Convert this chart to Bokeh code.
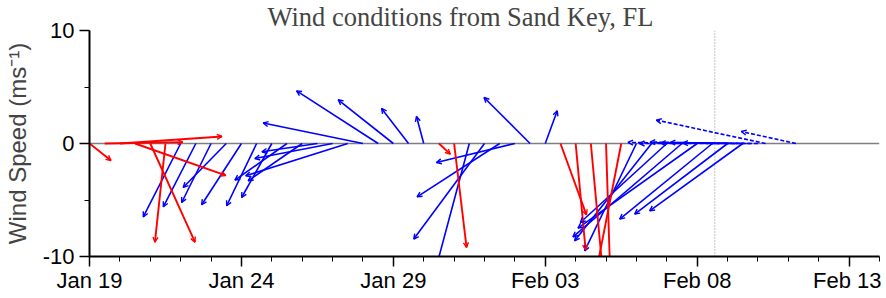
import numpy as np
from bokeh.plotting import figure
from bokeh.models import (ColumnDataSource, Arrow, OpenHead, FixedTicker, Span, Range1d)
from bokeh.embed import file_html
from bokeh.resources import INLINE

# ---------------- data ----------------
# observation times, days after Jan 19 00:00 (12-hourly)
obs_t = [0.0, 0.5, 1.0, 1.5, 2.0, 2.5, 3.0, 3.5, 4.0, 4.5, 5.0, 5.5, 6.0, 6.5,
         7.0, 7.5, 8.0, 8.5, 9.0, 9.5, 10.0, 10.5, 11.0, 11.5, 12.0, 12.5, 13.0,
         13.5, 14.0, 14.5, 15.0, 15.5, 16.0, 16.5, 17.0, 17.5, 18.0, 18.5, 19.0,
         19.5, 20.0, 20.5, 21.0, 21.5]
# eastward (u) and northward (v) wind components, m/s
obs_u = [1.90, 6.90, 9.03, 8.02, 3.96, -0.93, -3.31, -2.88, -2.60, -3.81, -3.52,
         -2.65, -2.67, -4.61, -4.78, -4.91, -6.88, -9.03, -8.83, -7.22, -4.88,
         -2.39, -0.64, 1.01, 1.10, -2.81, -6.26, -7.31, -6.94, -4.07, 1.06, 2.30,
         0.88, 1.00, 0.35, -2.05, -4.58, -6.81, -7.65, -9.65, -10.55, -8.20,
         -8.22, -8.24]
obs_v = [-1.50, 0.12, 0.62, -2.83, -8.73, -8.73, -6.49, -5.60, -5.22, -3.89,
         -5.42, -5.51, -4.78, -3.24, -3.30, -0.73, -1.33, -2.86, 1.81, 4.66, 3.87,
         3.10, 2.39, -0.94, -9.20, -10.50, -8.46, -4.72, -1.68, 4.07, 2.89, -6.31,
         -9.41, -10.80, -11.00, -10.50, -9.50, -8.61, -6.99, -8.26, -7.49, -6.69,
         -6.25, -5.96]
# measurement flag: "gust" arrows drawn in red, "mean" in blue
obs_kind = ["gust"] * 6 + ["mean"] * 17 + ["gust"] * 2 + ["mean"] * 6 + \
           ["gust"] * 5 + ["mean"] * 8

# forecast (6-hourly)
fc_t = [20.75, 21.0, 21.25, 21.5, 21.75, 22.0, 22.25, 23.25]
fc_u = [-8.14, -7.79, -7.52, -7.26, -7.08, -6.64, -9.66, -4.83]
fc_v = [0.09, 0.0, 0.13, 0.04, 0.09, 0.04, 2.07, 1.06]

now_t = 20.58  # time of latest observation

x_tick_days = [0, 5, 10, 15, 20, 25]
x_tick_labels = ["Jan 19", "Jan 24", "Jan 29", "Feb 03", "Feb 08", "Feb 13"]
y_ticks = [-10, 0, 10]
y_tick_labels = ["-10", "0", "10"]
y_minor = [-5, 5]

# ---------------- figure ----------------
X0, X1 = 0, 26
Y0, Y1 = -10, 10
FW, FH = 790, 226
BL, BR, BT, BB = 82, 2, 22, 34
# days per (m/s) so that vectors keep their true direction on screen
k = (FH / (Y1 - Y0)) / (FW / (X1 - X0))

p = figure(frame_width=FW, frame_height=FH,
           x_range=Range1d(X0, X1), y_range=Range1d(Y0, Y1),
           output_backend="svg", toolbar_location=None,
           min_border_left=BL, min_border_right=BR, min_border_top=BT,
           min_border_bottom=BB)
p.grid.visible = False
p.outline_line_color = None
p.background_fill_color = "white"
p.border_fill_color = "white"

p.title.text = "Wind conditions from Sand Key, FL"
p.title.text_font = "Liberation Serif"
p.title.text_font_size = "26.5px"
p.title.text_font_style = "normal"
p.title.align = "left"
p.title.offset = 178
p.title.standoff = -2

for ax in (p.xaxis[0], p.yaxis[0]):
    ax.axis_line_width = 2
    ax.axis_line_color = "black"
    ax.major_tick_line_color = "black"
    ax.minor_tick_line_color = "black"
    ax.major_tick_line_width = 1.5
    ax.minor_tick_line_width = 1
    ax.major_tick_in = 0
    ax.minor_tick_in = 0
    ax.major_tick_out = 10
    ax.minor_tick_out = 5
    ax.major_label_text_font = "Liberation Sans"
    ax.major_label_text_font_size = "22px"
    ax.major_label_text_color = "black"

p.xaxis.ticker = FixedTicker(ticks=x_tick_days, minor_ticks=list(range(X0, X1 + 1)))
p.xaxis.major_label_overrides = {d: s for d, s in zip(x_tick_days, x_tick_labels)}
p.xaxis.major_label_standoff = 1

p.yaxis.ticker = FixedTicker(ticks=y_ticks, minor_ticks=y_minor)
p.yaxis.major_label_overrides = {d: s for d, s in zip(y_ticks, y_tick_labels)}
p.yaxis.major_label_standoff = 5
p.yaxis.axis_label = "Wind Speed (ms\u207b\u00b9)"
p.yaxis.axis_label_text_font = "Liberation Sans"
p.yaxis.axis_label_text_font_size = "24px"
p.yaxis.axis_label_text_font_style = "normal"
p.yaxis.axis_label_standoff = 9

# zero line and "now" line
p.add_layout(Span(location=0, dimension="width", line_color="#7f7f7f",
                  line_width=1.5, level="underlay"))
p.add_layout(Span(location=now_t, dimension="height", line_color="#8a8a8a",
                  line_width=1, line_dash="1 2", level="underlay"))

colors = {"gust": "#ff0000", "mean": "#0000ff"}
widths = {"gust": 1.9, "mean": 1.6}


def draw(t, u, v, color, width, dash="solid"):
    t = np.asarray(t, float)
    u = np.asarray(u, float)
    v = np.asarray(v, float)
    x1 = t + u * k
    src = ColumnDataSource(dict(x0=t, y0=np.zeros_like(t), x1=x1, y1=v))
    p.segment("x0", "y0", "x1", "y1", source=src, line_color=color,
              line_width=width, line_dash=dash)
    inside = (v >= Y0) & (v <= Y1)
    hs = ColumnDataSource(dict(x0=t[inside], y0=np.zeros(inside.sum()),
                               x1=x1[inside], y1=v[inside]))
    p.add_layout(Arrow(source=hs, x_start="x0", y_start="y0", x_end="x1", y_end="y1",
                       line_alpha=0,
                       end=OpenHead(size=5, line_color=color, line_width=1.4)))


kinds = np.array(obs_kind)
for kind in ("mean", "gust"):
    m = kinds == kind
    draw(np.array(obs_t)[m], np.array(obs_u)[m], np.array(obs_v)[m],
         colors[kind], widths[kind])
draw(fc_t, fc_u, fc_v, colors["mean"], widths["mean"], dash="4 2")

open("out.html", "w").write(file_html(p, INLINE))
